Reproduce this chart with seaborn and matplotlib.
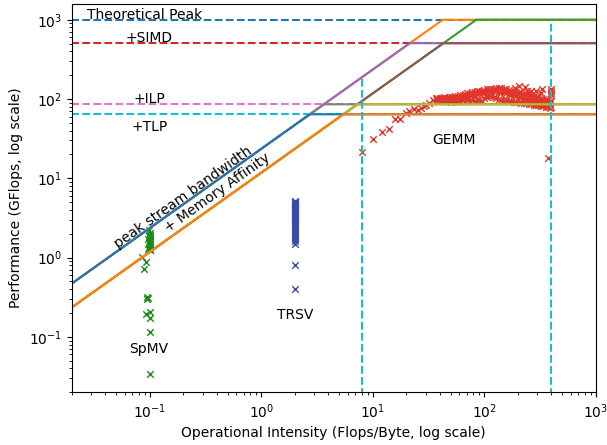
import numpy as np
import pandas as pd
import matplotlib
matplotlib.use("Agg")
import matplotlib.pyplot as plt
import seaborn as sns

# ---- roofline parameters ----
ceiling_names = ["Theoretical Peak", "+SIMD", "+ILP", "+TLP"]
ceiling_values = [1000.0, 506.0, 85.8, 64.2]
bandwidth_names = ["peak stream bandwidth", "+ Memory Affinity"]
bandwidth_values = [23.5, 11.75]
marker_x = [8.0, 400.0]

# ---- measured kernels ----
spmv_x = [0.099, 0.1, 0.1, 0.098, 0.1, 0.1, 0.097, 0.1, 0.1, 0.098, 0.1, 0.1, 0.1,
          0.099, 0.1, 0.097, 0.1,
          0.086, 0.092, 0.089, 0.094, 0.097, 0.095, 0.1, 0.092, 0.1, 0.1, 0.1]
spmv_y = [2.23, 2.05, 1.95, 1.9, 1.85, 1.78, 1.72, 1.65, 1.58, 1.55, 1.5, 1.42, 1.38,
          1.35, 1.3, 1.27, 1.25,
          1.03, 0.89, 0.72, 0.32, 0.31, 0.3, 0.205, 0.195, 0.172, 0.115, 0.034]

trsv_x = [2.0] * 41
trsv_y = [5.2, 5.1, 5.0, 4.9, 4.8, 4.7, 4.6, 4.5, 4.4, 4.3, 4.2, 4.1, 4.0, 3.9,
          3.8, 3.7, 3.6, 3.5, 3.4, 3.3, 3.2, 3.1, 3.0, 2.9, 2.8, 2.7, 2.6, 2.5,
          2.4, 2.3, 2.2, 2.1, 2.0, 1.9, 1.8, 1.75, 1.7, 1.6, 1.5, 0.80, 0.40]

gemm_rise_x = [8.0, 10.0, 12.0, 13.9, 15.8, 17.7, 19.9, 21.3, 23.6, 25.3, 27.1,
               29.0, 30.0, 32.3, 34.5, 36.9, 372.0]
gemm_rise_y = [21.5, 31.0, 38.0, 42.0, 56.0, 56.0, 66.0, 70.0, 75.0, 72.0, 77.0,
               81.0, 84.0, 90.0, 98.0, 102.0, 18.0]

gemm_x = [38, 40, 42, 44, 46, 48, 50, 52, 55, 58, 61, 64, 67, 70, 74, 78, 82, 86,
          90, 95, 100, 105, 110, 116, 122, 128, 135, 142, 150, 158, 166, 175, 184,
          194, 204, 215, 226, 238, 250, 263, 277, 291, 306, 322, 339, 356, 374, 392, 400]
gemm_low = [96, 95, 94, 96, 95, 94, 93, 94, 95, 94, 95, 96, 95, 96, 95, 96, 95, 96,
            96, 95, 104, 106, 108, 108, 106, 103, 100, 98, 97, 96, 95, 94, 93,
            92, 91, 90, 89, 88, 87, 86, 85, 84, 83, 82, 81, 80, 79, 78, 80]
gemm_mid = [99, 100, 98, 100, 99, 100, 98, 100, 101, 102, 104, 106, 108, 110, 111,
            112, 114, 116, 118, 120, 122, 124, 125, 126, 127, 126, 124, 123, 121,
            119, 116, 113, 111, 109, 107, 105, 103, 101, 99, 97, 95, 94, 92, 91,
            90, 88, 87, 86, 95]
gemm_high = [103, 104, 103, 105, 104, 106, 105, 107, 108, 110, 112, 114, 116, 118,
             120, 121, 123, 125, 127, 128, 130, 132, 133, 134, 135, 136, 137, 136,
             135, 133, 131, 128, 126, 124, 121, 119, 117, 115, 113, 111, 109, 107,
             105, 103, 101, 99, 97, 95, 112]
gemm_top_x = [187, 204, 230, 240, 262, 290, 320, 330, 400, 400, 395]
gemm_top_y = [137, 146, 142, 128, 128, 127, 120, 132, 125, 132, 118]

fig = plt.figure(figsize=(6.07, 4.45), dpi=100)
ax = fig.add_axes([0.1181, 0.1184, 0.9814 - 0.1181, 0.992 - 0.1184])

XMIN, XMAX = 0.02, 1000.0
YMIN, YMAX = 0.02, 1600.0

palette = plt.rcParams["axes.prop_cycle"].by_key()["color"]
ci = 0
for cname, cval in zip(ceiling_names, ceiling_values):
    d = pd.DataFrame({"x": [0.005, 5000.0], "y": [cval, cval]})
    sns.lineplot(data=d, x="x", y="y", ax=ax, color=palette[ci % 10],
                 linestyle="--", linewidth=1.5, estimator=None, sort=False)
    ci += 1
    for bval in bandwidth_values:
        knee = cval / bval
        d = pd.DataFrame({"x": [0.005, knee, 5000.0], "y": [bval * 0.005, cval, cval]})
        sns.lineplot(data=d, x="x", y="y", ax=ax, color=palette[ci % 10],
                     linewidth=1.5, estimator=None, sort=False)
        ci += 1

kw = dict(marker="x", s=22, linewidth=1.0, ax=ax, legend=False)
sns.scatterplot(x=spmv_x, y=spmv_y, color="#1a8a1a", **kw)
sns.scatterplot(x=trsv_x, y=trsv_y, color="#3a4aa8", **kw)
gx = gemm_rise_x + gemm_x * 3 + gemm_top_x
gy = gemm_rise_y + gemm_low + gemm_mid + gemm_high + gemm_top_y
sns.scatterplot(x=gx, y=gy, color="#e0352a", **kw)

for xv, top in zip(marker_x, [bandwidth_values[0] * marker_x[0], ceiling_values[0]]):
    d = pd.DataFrame({"x": [xv, xv], "y": [0.005, top]})
    sns.lineplot(data=d, x="x", y="y", ax=ax, color="#17becf", linestyle="--",
                 linewidth=1.5, estimator=None, sort=False)

ax.set_xscale("log")
ax.set_yscale("log")
ax.set_xlim(XMIN, XMAX)
ax.set_ylim(YMIN, YMAX)

ax.text(0.0274, 1030, "Theoretical Peak", fontsize=10, va="baseline", ha="left")
ax.text(0.061, 520, "+SIMD", fontsize=10, va="baseline", ha="left")
ax.text(0.071, 90, "+ILP", fontsize=10, va="baseline", ha="left")
ax.text(0.069, 39, "+TLP", fontsize=10, va="baseline", ha="left")
ax.text(0.2, 5.75, bandwidth_names[0], fontsize=10, rotation=35.4,
        rotation_mode="anchor", ha="center", va="center")
ax.text(0.405, 6.65, bandwidth_names[1], fontsize=10, rotation=35.4,
        rotation_mode="anchor", ha="center", va="center")
ax.text(54, 30.5, "GEMM", fontsize=10, ha="center", va="center")
ax.text(2.0, 0.187, "TRSV", fontsize=10, ha="center", va="center")
ax.text(0.099, 0.0703, "SpMV", fontsize=10, ha="center", va="center")

ax.set_xlabel("Operational Intensity (Flops/Byte, log scale)")
ax.set_ylabel("Performance (GFlops, log scale)")

fig.savefig("out.png", dpi=100)
